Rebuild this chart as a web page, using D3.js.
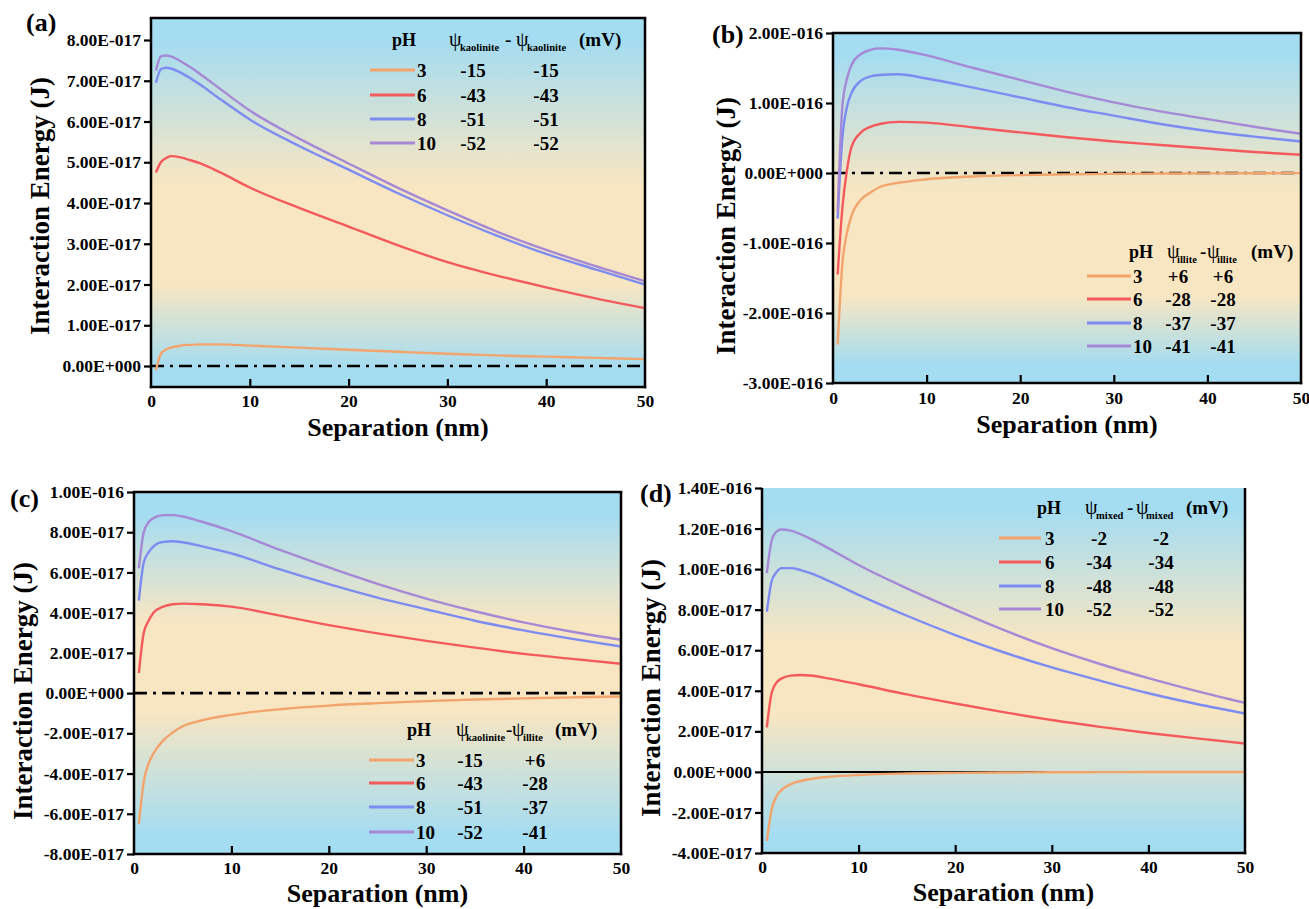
<!DOCTYPE html>
<html>
<head>
<meta charset="utf-8">
<script src="https://cdn.jsdelivr.net/npm/d3@7"></script>
<style>
  body { margin: 0; background: #fff; }
</style>
</head>
<body>
<div id="chart"></div>
<script>
// Separation distance samples (nm)
const sep = [0.5, 1, 1.5, 2, 3, 4, 5, 7, 10, 15, 20, 25, 30, 35, 40, 45, 50];
const phLabels = ['3', '6', '8', '10'];

// (a) kaolinite-kaolinite, values in 1e-17 J
const aPH3  = [-0.1, 0.3, 0.4, 0.45, 0.5, 0.52, 0.53, 0.53, 0.5, 0.45, 0.4, 0.35, 0.3, 0.26, 0.23, 0.2, 0.17];
const aPH6  = [4.75, 5.0, 5.1, 5.15, 5.12, 5.05, 4.97, 4.75, 4.38, 3.88, 3.42, 2.96, 2.55, 2.22, 1.93, 1.66, 1.42];
const aPH8  = [6.95, 7.28, 7.32, 7.3, 7.2, 7.06, 6.9, 6.55, 6.05, 5.4, 4.82, 4.24, 3.7, 3.2, 2.75, 2.37, 2.0];
const aPH10 = [7.25, 7.6, 7.62, 7.6, 7.48, 7.33, 7.16, 6.8, 6.27, 5.58, 4.97, 4.37, 3.82, 3.3, 2.85, 2.45, 2.08];
const aPsi1 = ['-15', '-43', '-51', '-52'];
const aPsi2 = ['-15', '-43', '-51', '-52'];
const aYTicks = [0, 1, 2, 3, 4, 5, 6, 7, 8];

// (b) illite-illite, values in 1e-16 J
const bPH3  = [-2.45, -1.3, -0.85, -0.6, -0.38, -0.28, -0.2, -0.14, -0.09, -0.05, -0.03, -0.02, -0.012, -0.008, -0.005, -0.003, -0.002];
const bPH6  = [-1.45, -0.5, 0.05, 0.38, 0.58, 0.66, 0.7, 0.73, 0.72, 0.65, 0.58, 0.51, 0.45, 0.4, 0.35, 0.3, 0.26];
const bPH8  = [-0.65, 0.5, 0.95, 1.15, 1.32, 1.38, 1.4, 1.41, 1.35, 1.22, 1.08, 0.94, 0.82, 0.7, 0.6, 0.52, 0.45];
const bPH10 = [-0.55, 0.95, 1.35, 1.55, 1.7, 1.76, 1.78, 1.76, 1.68, 1.5, 1.33, 1.16, 1.01, 0.88, 0.77, 0.66, 0.56];
const bPsi1 = ['+6', '-28', '-37', '-41'];
const bPsi2 = ['+6', '-28', '-37', '-41'];
const bYTicks = [-3, -2, -1, 0, 1, 2];

// (c) kaolinite-illite, values in 1e-17 J
const cPH3  = [-6.5, -4.4, -3.5, -3.0, -2.35, -1.95, -1.65, -1.35, -1.08, -0.8, -0.62, -0.5, -0.4, -0.32, -0.26, -0.21, -0.17];
const cPH6  = [1.0, 3.0, 3.6, 4.0, 4.3, 4.42, 4.45, 4.42, 4.3, 3.85, 3.38, 2.97, 2.6, 2.26, 1.95, 1.7, 1.46];
const cPH8  = [4.6, 6.5, 7.0, 7.3, 7.52, 7.55, 7.5, 7.3, 6.95, 6.15, 5.42, 4.75, 4.17, 3.6, 3.12, 2.7, 2.32];
const cPH10 = [6.2, 8.0, 8.5, 8.7, 8.85, 8.85, 8.78, 8.52, 8.05, 7.12, 6.25, 5.43, 4.7, 4.07, 3.52, 3.05, 2.65];
const cPsi1 = ['-15', '-43', '-51', '-52'];
const cPsi2 = ['+6', '-28', '-37', '-41'];
const cYTicks = [-8, -6, -4, -2, 0, 2, 4, 6, 8, 10];

// (d) mixed-mixed, values in 1e-17 J
const dPH3  = [-3.4, -1.85, -1.2, -0.9, -0.6, -0.45, -0.35, -0.24, -0.15, -0.08, -0.05, -0.03, -0.02, -0.012, -0.008, -0.005, -0.003];
const dPH6  = [2.2, 3.9, 4.4, 4.6, 4.75, 4.78, 4.75, 4.6, 4.32, 3.82, 3.37, 2.95, 2.56, 2.22, 1.92, 1.65, 1.4];
const dPH8  = [7.9, 9.4, 9.85, 10.05, 10.05, 9.95, 9.8, 9.4, 8.73, 7.7, 6.75, 5.9, 5.15, 4.5, 3.88, 3.35, 2.88];
const dPH10 = [9.8, 11.4, 11.85, 11.95, 11.9, 11.72, 11.5, 11.0, 10.2, 9.05, 8.0, 7.0, 6.1, 5.32, 4.62, 3.98, 3.4];
const dPsi1 = ['-2', '-34', '-48', '-52'];
const dPsi2 = ['-2', '-34', '-48', '-52'];
const dYTicks = [-4, -2, 0, 2, 4, 6, 8, 10, 12, 14];

const xTicks = [0, 10, 20, 30, 40, 50];

const lineColors = ['#f3a46c', '#f45a5c', '#7d8cf2', '#a589d6'];
const bgBlue = '#a4dcf1';
const bgYellow = '#f8e6c2';
const FONT = 'Liberation Serif';

const width = 1309, height = 909;
const svg = d3.select('#chart').append('svg')
  .attr('width', width).attr('height', height)
  .attr('viewBox', [0, 0, width, height]);
const defs = svg.append('defs');

// bold serif text helper
function txt(sel, size) {
  return sel.append('text')
    .attr('font-family', FONT)
    .attr('font-weight', 'bold')
    .attr('font-size', size)
    .attr('fill', '#000');
}

// "8.00E-017" style labels
function sci(v) {
  if (Math.abs(v) < 1e-30) return '0.00E+000';
  const e = Math.floor(Math.log10(Math.abs(v)) + 1e-9);
  const m = v / Math.pow(10, e);
  return m.toFixed(2) + 'E' + (e < 0 ? '-' : '+') + String(Math.abs(e)).padStart(3, '0');
}

const panels = [
  { id: 'a', unit: 1e-17, series: [aPH3, aPH6, aPH8, aPH10], yTicks: aYTicks, psi1: aPsi1, psi2: aPsi2,
    box: { l: 151, r: 645, t: 18, b: 387 }, yDom: [-0.515, 8.54], grad: [0.45, 0.72], topLine: true, zeroSolid: false,
    label: { x: 26, y: 31 }, yTitle: { x: 49, y: 206 }, xTitleY: 436, xLabGap: 20,
    leg: { ph: 392, head: 46, rows: [70, 95, 119, 143], l0: 370, l1: 415, num: 417, c1: 473, c2: 546,
      hdr: [['ψ', 449], ['kaolinite', 460, true], ['-', 505], ['ψ', 516], ['kaolinite', 527, true], ['(mV)', 579]] } },
  { id: 'b', unit: 1e-16, series: [bPH3, bPH6, bPH8, bPH10], yTicks: bYTicks, psi1: bPsi1, psi2: bPsi2,
    box: { l: 833, r: 1301, t: 33, b: 383 }, yDom: [-3, 2], grad: [0.45, 0.75], topLine: true, zeroSolid: false,
    label: { x: 712, y: 43 }, yTitle: { x: 735, y: 226 }, xTitleY: 433, xLabGap: 21,
    leg: { ph: 1129, head: 258, rows: [276, 299, 323, 346], l0: 1087, l1: 1131, num: 1133, c1: 1178, c2: 1223,
      hdr: [['ψ', 1167], ['illite', 1177, true], ['-', 1200], ['ψ', 1207], ['illite', 1217, true], ['(mV)', 1251]] } },
  { id: 'c', unit: 1e-17, series: [cPH3, cPH6, cPH8, cPH10], yTicks: cYTicks, psi1: cPsi1, psi2: cPsi2,
    box: { l: 134, r: 621, t: 492, b: 854 }, yDom: [-8, 10], grad: [0.36, 0.6], topLine: true, zeroSolid: false,
    label: { x: 10, y: 507 }, yTitle: { x: 32, y: 691 }, xTitleY: 902, xLabGap: 20,
    leg: { ph: 407, head: 736, rows: [760, 783, 807, 832], l0: 369, l1: 414, num: 416, c1: 470, c2: 535,
      hdr: [['ψ', 456], ['kaolinite', 466, true], ['-', 506], ['ψ', 512], ['illite', 523, true], ['(mV)', 555]] } },
  { id: 'd', unit: 1e-17, series: [dPH3, dPH6, dPH8, dPH10], yTicks: dYTicks, psi1: dPsi1, psi2: dPsi2,
    box: { l: 762, r: 1245, t: 488, b: 853 }, yDom: [-4, 14], grad: [0.42, 0.62], topLine: false, zeroSolid: true,
    label: { x: 640, y: 502 }, yTitle: { x: 660, y: 688 }, xTitleY: 901, xLabGap: 20,
    leg: { ph: 1037, head: 514, rows: [538, 562, 586, 609], l0: 999, l1: 1041, num: 1045, c1: 1099, c2: 1161,
      hdr: [['ψ', 1085], ['mixed', 1096, true], ['-', 1127], ['ψ', 1136], ['mixed', 1146, true], ['(mV)', 1186]] } }
];

panels.forEach(p => {
  const { l, r, t, b } = p.box;
  const x = d3.scaleLinear().domain([0, 50]).range([l, r]);
  const y = d3.scaleLinear().domain(p.yDom.map(v => v * p.unit)).range([b, t]);
  const g = svg.append('g');

  // gradient background
  const grad = defs.append('linearGradient').attr('id', 'bg-' + p.id)
    .attr('x1', 0).attr('y1', 0).attr('x2', 0).attr('y2', 1);
  [[0, bgBlue], [0.06, bgBlue], [p.grad[0], bgYellow], [p.grad[1], bgYellow], [0.95, bgBlue], [1, bgBlue]]
    .forEach(s => grad.append('stop').attr('offset', s[0]).attr('stop-color', s[1]));
  g.append('rect').attr('x', l).attr('y', t).attr('width', r - l).attr('height', b - t)
    .attr('fill', `url(#bg-${p.id})`);

  defs.append('clipPath').attr('id', 'clip-' + p.id)
    .append('rect').attr('x', l).attr('y', t).attr('width', r - l).attr('height', b - t);

  // zero line
  g.append('line')
    .attr('x1', l).attr('x2', r).attr('y1', y(0)).attr('y2', y(0))
    .attr('stroke', '#000').attr('stroke-width', p.zeroSolid ? 2 : 2.6)
    .attr('stroke-dasharray', p.zeroSolid ? null : '13,6,3,6');

  // curves
  const line = d3.line()
    .x((d, i) => x(sep[i]))
    .y(d => y(d * p.unit))
    .curve(d3.curveMonotoneX);
  g.append('g').attr('clip-path', `url(#clip-${p.id})`)
    .selectAll('path')
    .data(p.series)
    .join('path')
    .attr('d', line)
    .attr('fill', 'none')
    .attr('stroke', (d, i) => lineColors[i])
    .attr('stroke-width', 2.4)
    .attr('stroke-linejoin', 'round');

  // frame
  const frame = g.append('g').attr('stroke', '#000').attr('stroke-width', 2.5).attr('fill', 'none');
  frame.append('line').attr('x1', l).attr('x2', l).attr('y1', t).attr('y2', b + 1.25);
  frame.append('line').attr('x1', r).attr('x2', r).attr('y1', t).attr('y2', b + 1.25);
  frame.append('line').attr('x1', l - 1.25).attr('x2', r + 1.25).attr('y1', b).attr('y2', b);
  if (p.topLine) frame.append('line').attr('x1', l - 1.25).attr('x2', r + 1.25).attr('y1', t).attr('y2', t);

  // y axis: outward ticks
  const yAxis = d3.axisLeft(y)
    .tickValues(p.yTicks.map(v => v * p.unit))
    .tickSize(7).tickPadding(3)
    .tickFormat(sci);
  const ya = g.append('g').attr('transform', `translate(${l},0)`).call(yAxis);
  ya.select('.domain').remove();
  ya.selectAll('line').attr('stroke', '#000').attr('stroke-width', 2.2);
  ya.selectAll('text').attr('fill', '#000').attr('font-family', FONT)
    .attr('font-weight', 'bold').attr('font-size', 17.5);

  // x axis: inward ticks
  const xAxis = d3.axisBottom(x).tickValues(xTicks).tickSize(0).tickFormat(d3.format('d'));
  const xa = g.append('g').attr('transform', `translate(0,${b})`).call(xAxis);
  xa.select('.domain').remove();
  xa.selectAll('.tick text').attr('y', p.xLabGap).attr('dy', 0).attr('fill', '#000')
    .attr('font-family', FONT).attr('font-weight', 'bold').attr('font-size', 17.5);
  xa.selectAll('.tick').filter(d => d > 0 && d < 50).append('line')
    .attr('y1', 0).attr('y2', -8).attr('stroke', '#000').attr('stroke-width', 2.2);

  // axis titles
  txt(g, 26).attr('x', (l + r) / 2).attr('y', p.xTitleY)
    .attr('text-anchor', 'middle').text('Separation (nm)');
  txt(g, 27)
    .attr('transform', `translate(${p.yTitle.x},${p.yTitle.y}) rotate(-90)`)
    .attr('text-anchor', 'middle').text('Interaction Energy (J)');

  // panel label
  txt(g, 26).attr('x', p.label.x).attr('y', p.label.y).text(`(${p.id})`);

  // legend
  const lg = p.leg;
  const leg = g.append('g');
  txt(leg, 18).attr('x', lg.ph).attr('y', lg.head).text('pH');
  lg.hdr.forEach(h => {
    const isSub = h[2] === true;
    const t = txt(leg, 19).attr('x', h[1]).attr('y', lg.head).text(h[0]);
    if (isSub) {
      t.attr('y', lg.head + 5).attr('font-size', 10.5);
    } else if (h[0] === 'ψ') {
      t.attr('font-size', 20).attr('font-weight', 'normal');
    }
  });
  phLabels.forEach((ph, i) => {
    const ry = lg.rows[i];
    leg.append('line').attr('x1', lg.l0).attr('x2', lg.l1).attr('y1', ry).attr('y2', ry)
      .attr('stroke', lineColors[i]).attr('stroke-width', 3.2);
    txt(leg, 19).attr('x', lg.num).attr('y', ry + 6.5).text(ph);
    txt(leg, 19).attr('x', lg.c1).attr('y', ry + 6.5).attr('text-anchor', 'middle').text(p.psi1[i]);
    txt(leg, 19).attr('x', lg.c2).attr('y', ry + 6.5).attr('text-anchor', 'middle').text(p.psi2[i]);
  });
});
</script>
</body>
</html>
